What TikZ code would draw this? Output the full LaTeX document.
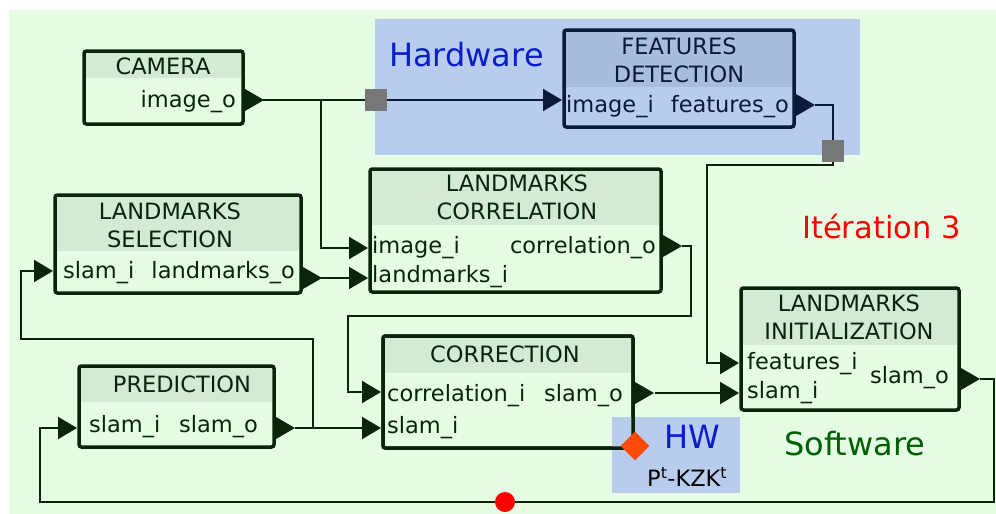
\documentclass[tikz,border=0pt]{standalone}
\usepackage{fontspec}
\setmainfont{DejaVu Sans}
\usetikzlibrary{arrows.meta,shapes.geometric}
\definecolor{bgc}{HTML}{E5FDE5}
\definecolor{hdrc}{HTML}{D3EAD5}
\definecolor{dkg}{HTML}{0A240A}
\definecolor{hwc}{HTML}{B8CCEE}
\definecolor{hwhdr}{HTML}{A8BCDE}
\definecolor{navy}{HTML}{0A1A3A}
\definecolor{hwtext}{HTML}{0A1EC8}
\definecolor{swtext}{HTML}{005F00}
\definecolor{sqc}{HTML}{777777}
\definecolor{diac}{HTML}{FF4A0A}
\tikzset{
  frame/.style={draw=dkg, fill=bgc, line width=3.5pt, rounded corners=2.5pt, inner sep=0pt, outer sep=0pt, anchor=north west},
  wire/.style={draw=dkg, line width=2pt},
  hwwire/.style={draw=navy, line width=2pt},
  inarr/.style={-{Triangle[width=22pt,length=19pt]}},
  lbl/.style={font=\fontsize{22.5}{27}\selectfont, text=dkg, inner sep=0pt},
  big/.style={font=\fontsize{32}{38}\selectfont, inner sep=0pt},
  hwsq/.style={fill=sqc, draw=none, minimum size=22pt, inner sep=0pt, outer sep=0pt},
}
\newcommand\outtri[3][dkg]{\fill[#1] (#2,#3-11) -- (#2+19,#3) -- (#2,#3+11) -- cycle;}
\begin{document}
\begin{tikzpicture}[x=1pt,y=-1pt]
\useasboundingbox (0,0) rectangle (996,514);
\fill[bgc] (9,10) rectangle (996,514);
% hardware zone
\fill[hwc] (375,19) rectangle (860,155);
\node[big, text=hwtext, anchor=base west] (hwlbl) at (389,66) {Hardware};

% CAMERA
\node[frame, minimum width=159pt, minimum height=73pt] (cam) at (84,51) {};
\fill[hdrc] (85.75,52.75) rectangle (241.25,78);
\node[lbl, anchor=base] (camt) at (163,74) {CAMERA};
\node[lbl, anchor=base east] (camo) at (236,107) {image\_o};
\outtri{245}{100}

% FEATURES DETECTION
\node[frame, draw=navy, fill=hwc, minimum width=230pt, minimum height=97pt] (feat) at (564,30) {};
\fill[hwhdr] (565.75,31.75) rectangle (792.25,87);
\node[lbl, text=navy, anchor=base] (featt1) at (679,54) {FEATURES};
\node[lbl, text=navy, anchor=base] (featt2) at (679,82) {DETECTION};
\node[lbl, text=navy, anchor=base west] (feati) at (566,112) {image\_i};
\node[lbl, text=navy, anchor=base east] (feato) at (789,112) {features\_o};
\outtri[navy]{796}{105}

% LANDMARKS SELECTION
\node[frame, minimum width=246pt, minimum height=98pt] (sel) at (55,195) {};
\fill[hdrc] (56.75,196.75) rectangle (299.25,251);
\node[lbl, anchor=base] (selt1) at (170,219) {LANDMARKS};
\node[lbl, anchor=base] (selt2) at (170,247) {SELECTION};
\node[lbl, anchor=base west] (seli) at (63,278) {slam\_i};
\node[lbl, anchor=base east] (selo) at (295,278) {landmarks\_o};
\outtri{303}{278}

% LANDMARKS CORRELATION
\node[frame, minimum width=291pt, minimum height=123pt] (corr) at (370,169) {};
\fill[hdrc] (371.75,170.75) rectangle (659.25,225);
\node[lbl, anchor=base] (corrt1) at (517,191) {LANDMARKS};
\node[lbl, anchor=base] (corrt2) at (517,219) {CORRELATION};
\node[lbl, anchor=base west] (corri1) at (372,253) {image\_i};
\node[lbl, anchor=base west] (corri2) at (372,282) {landmarks\_i};
\node[lbl, anchor=base east] (corro) at (656,253) {correlation\_o};
\outtri{663}{246}

% CORRECTION
\node[frame, minimum width=250pt, minimum height=112pt] (cor) at (383,336) {};
\fill[hdrc] (384.75,337.75) rectangle (631.25,373);
\node[lbl, anchor=base] (cort) at (505,362) {CORRECTION};
\node[lbl, anchor=base west] (cori1) at (387,401) {correlation\_i};
\node[lbl, anchor=base west] (cori2) at (387,433) {slam\_i};
\node[lbl, anchor=base east] (coro) at (623,401) {slam\_o};
\outtri{635}{393}
% HW zone over correction corner
\fill[hwc] (612,417) rectangle (740,493);
\draw[draw=dkg, line width=3.5pt, rounded corners=2.5pt] (cor.north west) rectangle (cor.south east);
\node[diamond, fill=diac, minimum size=29pt, inner sep=0pt] (hwd) at (635,446) {};
\node[big, text=hwtext, anchor=base west] (hwt) at (664,448) {HW};
\node[lbl, text=black, anchor=base west] (hwf) at (647,486) {P\textsuperscript{t}-KZK\textsuperscript{t}};

% PREDICTION
\node[frame, minimum width=195pt, minimum height=81pt] (pred) at (79,366) {};
\fill[hdrc] (80.75,367.75) rectangle (272.25,402);
\node[lbl, anchor=base] (predt) at (182,392) {PREDICTION};
\node[lbl, anchor=base west] (predi) at (89,432) {slam\_i};
\node[lbl, anchor=base east] (predo) at (258,432) {slam\_o};
\outtri{276}{428}

% LANDMARKS INITIALIZATION
\node[frame, minimum width=218pt, minimum height=122pt] (init) at (741,288) {};
\fill[hdrc] (742.75,289.75) rectangle (957.25,345);
\node[lbl, anchor=base] (initt1) at (849,311) {LANDMARKS};
\node[lbl, anchor=base] (initt2) at (849,339) {INITIALIZATION};
\node[lbl, anchor=base west] (initi1) at (747,369) {features\_i};
\node[lbl, anchor=base west] (initi2) at (747,398) {slam\_i};
\node[lbl, anchor=base east] (inito) at (949,383) {slam\_o};
\outtri{961}{379}

% labels
\node[font=\fontsize{30.5}{36}\selectfont, inner sep=0pt, text=red, anchor=base west] (iter) at (802,238) {Itération 3};
\node[big, text=swtext, anchor=base west] (sw) at (784,455) {Software};

% ports
\coordinate (p-camo) at (263,100);
\coordinate (p-feati) at (562,100);
\coordinate (p-feato) at (815,105);
\coordinate (p-corri1) at (368,248);
\coordinate (p-corri2) at (368,278);
\coordinate (p-selo) at (321,278);
\coordinate (p-seli) at (53,271);
\coordinate (p-corro) at (682,246);
\coordinate (p-cori1) at (381,392);
\coordinate (p-cori2) at (381,428);
\coordinate (p-coro) at (655,393);
\coordinate (p-predo) at (295,428);
\coordinate (p-predi) at (77,428);
\coordinate (p-initi1) at (739,363);
\coordinate (p-initi2) at (739,393);
\coordinate (p-inito) at (980,379);
\coordinate (j1) at (321,100);
\coordinate (j2) at (313,428);
\coordinate (redpt) at (505,502);

% hardware interface squares
\node[hwsq] (sq1) at (376,100) {};
\node[hwsq] (sq2) at (833,151) {};

% connectors
\draw[wire] (p-camo) -- (sq1.west);
\draw[hwwire, inarr] (sq1.east) -- (p-feati);
\draw[wire, inarr] (j1) |- (p-corri1);
\draw[hwwire] (p-feato) -| (sq2.north);
\draw[wire, inarr] (sq2.south) -- (833,165) -- (707,165) |- (p-initi1);
\draw[wire, inarr] (p-selo) -- (p-corri2);
\draw[wire, inarr] (p-corro) -- (691,246) -- (691,316) -- (348,316) |- (p-cori1);
\draw[wire, inarr] (p-coro) -- (p-initi2);
\draw[wire, inarr] (p-predo) -- (p-cori2);
\draw[wire, inarr] (j2) -- (313,339) -- (21,339) |- (p-seli);
\draw[wire, inarr] (p-inito) -- (994,379) -- (994,502) -- (40,502) |- (p-predi);
\fill[red] (redpt) circle (10pt);
\node[hwsq] at (sq1) {};
\node[hwsq] at (sq2) {};
\end{tikzpicture}
\end{document}
